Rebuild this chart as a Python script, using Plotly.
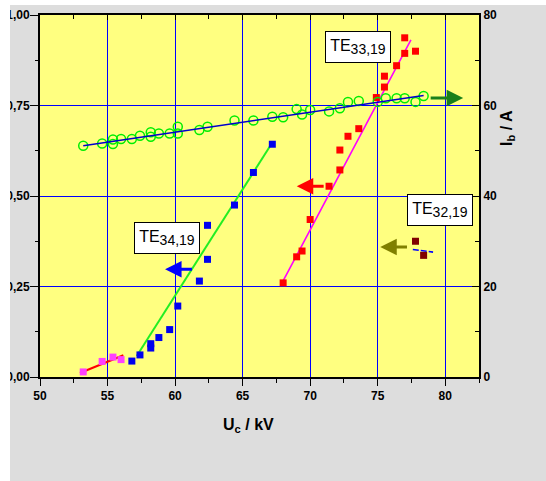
import plotly.graph_objects as go

# ---------------- data ----------------
# I_b (right axis) open circles
ib_x = [53.2, 54.6, 55.4, 55.4, 56.0, 56.8, 57.4, 58.2, 58.2, 58.8, 59.6, 60.2, 60.2,
        61.8, 62.4, 64.4, 65.8, 67.2, 68.0, 69.0, 69.4, 70.0, 71.4, 72.2, 72.8, 73.6,
        75.0, 75.6, 76.4, 77.0, 77.8, 78.4]
ib_y = [51.1, 51.6, 52.5, 51.5, 52.6, 52.6, 53.3, 54.1, 53.1, 53.8, 53.8, 55.3, 53.8,
        54.6, 55.3, 56.7, 56.7, 57.5, 57.4, 59.2, 58.0, 59.0, 58.7, 59.4, 60.8, 61.0,
        60.8, 61.6, 61.6, 61.6, 60.8, 62.1]
ib_fit_x = [53.2, 78.4]
ib_fit_y = [51.1, 62.2]

# TE33,19 (red)
te33_x = [68.0, 69.0, 69.4, 70.0, 71.4, 72.2, 72.2, 72.8, 73.6, 74.9, 75.5, 75.5, 76.4, 77.0, 77.0, 77.8]
te33_y = [0.260, 0.332, 0.348, 0.435, 0.527, 0.572, 0.627, 0.665, 0.686, 0.772, 0.801, 0.831, 0.860, 0.894, 0.937, 0.900]
te33_fit_x = [67.85, 77.46]
te33_fit_y = [0.255, 0.931]

# TE34,19 (blue)
te34_x = [56.8, 57.4, 58.2, 58.2, 58.8, 59.6, 60.2, 61.8, 62.4, 62.4, 64.4, 65.8, 67.2]
te34_y = [0.044, 0.061, 0.080, 0.092, 0.109, 0.131, 0.196, 0.265, 0.325, 0.419, 0.475, 0.565, 0.643]
te34_fit_x = [57.16, 67.19]
te34_fit_y = [0.058, 0.647]

# TE35,19 (magenta, low)
te35_x = [53.2, 54.6, 55.4, 56.0]
te35_y = [0.014, 0.043, 0.055, 0.048]
te35_fit_x = [52.96, 56.17]
te35_fit_y = [0.011, 0.060]

# TE32,19 (dark red)
te32_x = [77.8, 78.4]
te32_y = [0.375, 0.336]
te32_fit_x = [77.6, 79.1]
te32_fit_y = [0.352, 0.345]

left_tickvals = [0, 0.25, 0.5, 0.75, 1.0]
left_ticktext = ["0,00", "0,25", "0,50", "0,75", "1,00"]
right_tickvals = [0, 20, 40, 60, 80]
x_tickvals = [50, 55, 60, 65, 70, 75, 80]

FONT = "Liberation Sans, Arial, sans-serif"

fig = go.Figure()

# lines first
fig.add_trace(go.Scatter(x=te35_fit_x, y=te35_fit_y, mode="lines",
                         line=dict(color="#ff0000", width=2), showlegend=False))
fig.add_trace(go.Scatter(x=te34_fit_x, y=te34_fit_y, mode="lines",
                         line=dict(color="#22ee22", width=2), showlegend=False))
fig.add_trace(go.Scatter(x=te33_fit_x, y=te33_fit_y, mode="lines",
                         line=dict(color="#ff00ff", width=1.6), showlegend=False))
fig.add_trace(go.Scatter(x=te32_fit_x, y=te32_fit_y, mode="lines",
                         line=dict(color="#0000ff", width=1.6, dash="6px,2px"), showlegend=False))

# squares
sq = dict(symbol="square", size=7, line=dict(width=0))
fig.add_trace(go.Scatter(x=te35_x, y=te35_y, mode="markers",
                         marker=dict(color="#ff40ff", **sq), showlegend=False))
fig.add_trace(go.Scatter(x=te34_x, y=te34_y, mode="markers",
                         marker=dict(color="#0000ee", **sq), showlegend=False))
fig.add_trace(go.Scatter(x=te33_x, y=te33_y, mode="markers",
                         marker=dict(color="#ff0000", **sq), showlegend=False))
fig.add_trace(go.Scatter(x=te32_x, y=te32_y, mode="markers",
                         marker=dict(color="#800000", **sq), showlegend=False))

# right axis series
fig.add_trace(go.Scatter(x=ib_x, y=ib_y, mode="markers", xaxis="x2", yaxis="y2",
                         marker=dict(symbol="circle-open", size=9, color="#00ee00",
                                     line=dict(color="#00ee00", width=1.5)),
                         showlegend=False))
fig.add_trace(go.Scatter(x=ib_fit_x, y=ib_fit_y, mode="lines", xaxis="x2", yaxis="y2",
                         line=dict(color="#0000cc", width=1.5), showlegend=False))

tickfont = dict(family=FONT, size=12, color="black", weight="bold")

fig.update_layout(
    width=546, height=481, autosize=False,
    margin=dict(l=40, r=67, t=15, b=104, pad=0),
    paper_bgcolor="#dddddd",
    plot_bgcolor="#ffff80",
    showlegend=False,
    xaxis=dict(range=[50, 82.5], tickvals=x_tickvals, ticks="outside", ticklen=7,
               tickwidth=1.2, tickcolor="black", automargin=False,
               minor=dict(dtick=2.5, tick0=50, ticks="outside", ticklen=4, tickcolor="black",
                          showgrid=False),
               showgrid=True, gridcolor="#0000ff", gridwidth=1,
               showline=True, linecolor="black", linewidth=2, zeroline=False,
               tickfont=tickfont),
    xaxis2=dict(range=[50, 82.5], overlaying="x", side="top", matches="x",
                tickvals=x_tickvals, ticks="inside", ticklen=5, tickcolor="black",
                automargin=False,
                minor=dict(dtick=2.5, tick0=50, ticks="inside", ticklen=4, tickcolor="black"),
                showticklabels=False, showgrid=False, showline=True,
                linecolor="black", linewidth=2, zeroline=False),
    yaxis=dict(range=[0, 1.0], tickvals=left_tickvals, ticktext=left_ticktext,
               ticks="outside", ticklen=8, tickwidth=1.2, tickcolor="black",
               automargin=False, ticklabelstandoff=-2,
               minor=dict(dtick=0.125, tick0=0, ticks="outside", ticklen=3, tickcolor="black",
                          showgrid=False),
               showgrid=True, gridcolor="#0000ff", gridwidth=1,
               showline=True, linecolor="black", linewidth=2, zeroline=False,
               tickfont=tickfont),
    yaxis2=dict(range=[0, 80], overlaying="y", side="right", tickvals=right_tickvals,
                ticks="inside", ticklen=7, tickwidth=1.2, tickcolor="black",
                automargin=False,
                minor=dict(dtick=10, tick0=0, ticks="inside", ticklen=4, tickcolor="black"),
                showgrid=False, showline=True, linecolor="black", linewidth=2,
                zeroline=False, tickfont=tickfont),
    shapes=[
        dict(type="rect", xref="paper", yref="paper", x0=-0.2, x1=-0.0683,
             y0=-0.4, y1=1.1, fillcolor="white", line=dict(width=0), layer="above"),
        dict(type="rect", xref="paper", yref="paper", x0=-0.2, x1=1.3,
             y0=1.0276, y1=1.1, fillcolor="white", line=dict(width=0), layer="below"),
    ],
)

# axis titles
fig.add_annotation(xref="paper", yref="paper", x=0.474, y=-0.1326,
                   xanchor="center", yanchor="middle",
                   text="U<sub>c</sub> / kV", showarrow=False,
                   font=dict(family=FONT, size=16, color="black", weight="bold"))
fig.add_annotation(xref="paper", yref="paper", x=1.066, y=0.688, textangle=-90,
                   xanchor="center", yanchor="middle",
                   text="I<sub>b</sub> / A", showarrow=False,
                   font=dict(family=FONT, size=16, color="black", weight="bold"))

# labels
lab_font = dict(family=FONT, size=16, color="black")
for tn, ts, lx, ly in [("TE", "33,19", 73.56, 0.9115),
                       ("TE", "34,19", 59.37, 0.385),
                       ("TE", "32,19", 79.63, 0.461)]:
    txt = f"{tn}<sub><span style='font-size:14px'>{ts}</span></sub>"
    fig.add_annotation(x=lx, y=ly, xref="x", yref="y", text=txt, showarrow=False,
                       font=lab_font, bgcolor="white", bordercolor="black",
                       borderwidth=1, borderpad=2, width=60, height=26)

# arrows
for col, tx, hx, ay in [("#1a801a", 78.81, 81.33, 0.7705),
                        ("#ff0000", 71.11, 69.01, 0.527),
                        ("#0000ff", 61.36, 59.26, 0.2977),
                        ("#808000", 77.28, 75.19, 0.3594)]:
    fig.add_annotation(x=hx, y=ay, ax=tx, ay=ay, xref="x", yref="y",
                       axref="x", ayref="y", text="", showarrow=True,
                       arrowhead=2, arrowsize=1.1, arrowwidth=3, arrowcolor=col)

fig.write_html("out.html", config={"displayModeBar": False},
               post_script="document.body.style.margin='0';document.body.style.overflow='hidden';")
